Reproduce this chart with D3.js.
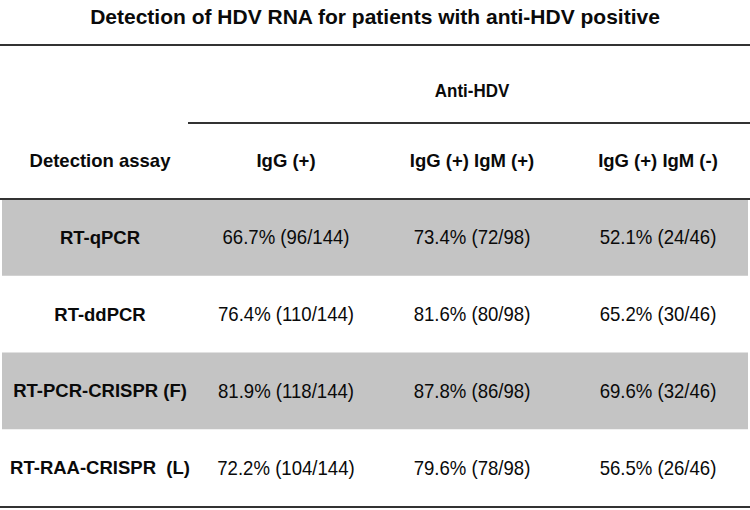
<!DOCTYPE html>
<html>
<head>
<meta charset="utf-8">
<script src="https://cdn.jsdelivr.net/npm/d3@7"></script>
<style>
  html, body { margin: 0; padding: 0; background: #fff; }
  svg { display: block; font-family: "Liberation Sans", Arial, sans-serif; }
</style>
</head>
<body>
<svg id="chart" width="750" height="510"></svg>
<script>
const title = "Detection of HDV RNA for patients with anti-HDV positive";
const groupHeader = "Anti-HDV";
const rowHeader = "Detection assay";
const assays = ["RT-qPCR", "RT-ddPCR", "RT-PCR-CRISPR (F)", "RT-RAA-CRISPR  (L)"];
const groups = ["IgG (+)", "IgG (+) IgM (+)", "IgG (+) IgM (-)"];
const totals = [144, 98, 46];
const positivesIgG = [96, 110, 118, 104];
const positivesIgGIgMPos = [72, 80, 86, 78];
const positivesIgGIgMNeg = [24, 30, 32, 26];
const percentIgG = ["66.7", "76.4", "81.9", "72.2"];
const percentIgGIgMPos = ["73.4", "81.6", "87.8", "79.6"];
const percentIgGIgMNeg = ["52.1", "65.2", "69.6", "56.5"];

const positives = [positivesIgG, positivesIgGIgMPos, positivesIgGIgMNeg];
const percents = [percentIgG, percentIgGIgMPos, percentIgGIgMNeg];

const svg = d3.select("#chart");
const W = 750;

const cols = ["assay"].concat(groups);
const x = d3.scaleBand().domain(cols).range([7, 751]);
const y = d3.scaleBand().domain(assays).range([199, 506]);
const cx = c => x(c) + x.bandwidth() / 2;
const cy = r => y(r) + y.bandwidth() / 2;

function label(g, str, px, py, size, weight, sx) {
  g.append("text")
    .attr("transform", `translate(${px},${py}) scale(${sx},1)`)
    .attr("text-anchor", "middle")
    .attr("dy", "0.35em")
    .attr("font-size", size)
    .attr("font-weight", weight)
    .attr("fill", "#0a0a0a")
    .style("white-space", "pre")
    .text(str);
}

// shaded rows
svg.append("g").selectAll("rect")
  .data(assays.filter((d, i) => i % 2 === 0))
  .join("rect")
  .attr("x", 2).attr("width", W - 4)
  .attr("y", d => y(d)).attr("height", y.bandwidth())
  .attr("fill", "#c4c4c4");

// rules
const rules = svg.append("g").attr("stroke", "#333");
rules.append("line").attr("x1", 0).attr("x2", W).attr("y1", 45).attr("y2", 45).attr("stroke-width", 2);
rules.append("line").attr("x1", x(groups[0]) - 5).attr("x2", W).attr("y1", 123).attr("y2", 123).attr("stroke-width", 2);
rules.append("line").attr("x1", 0).attr("x2", W).attr("y1", y.range()[0]).attr("y2", y.range()[0]).attr("stroke-width", 2);
rules.append("line").attr("x1", 0).attr("x2", W).attr("y1", y.range()[1] + 1).attr("y2", y.range()[1] + 1).attr("stroke-width", 2);

const t = svg.append("g");
label(t, title, 375, 17, 21, "bold", 1.0);
label(t, groupHeader, cx(groups[1]), 91, 17.5, "bold", 0.97);
label(t, rowHeader, cx("assay"), 161, 18.5, "bold", 1.0);
groups.forEach(gname => label(t, gname, cx(gname), 161, 18.5, "bold", 1.0));

assays.forEach((a, i) => {
  label(t, a, cx("assay"), cy(a), 18.5, "bold", 1.0);
  groups.forEach((gname, j) => {
    const s = `${percents[j][i]}% (${positives[j][i]}/${totals[j]})`;
    label(t, s, cx(gname), cy(a), 20, "normal", 0.93);
  });
});
</script>
</body>
</html>
